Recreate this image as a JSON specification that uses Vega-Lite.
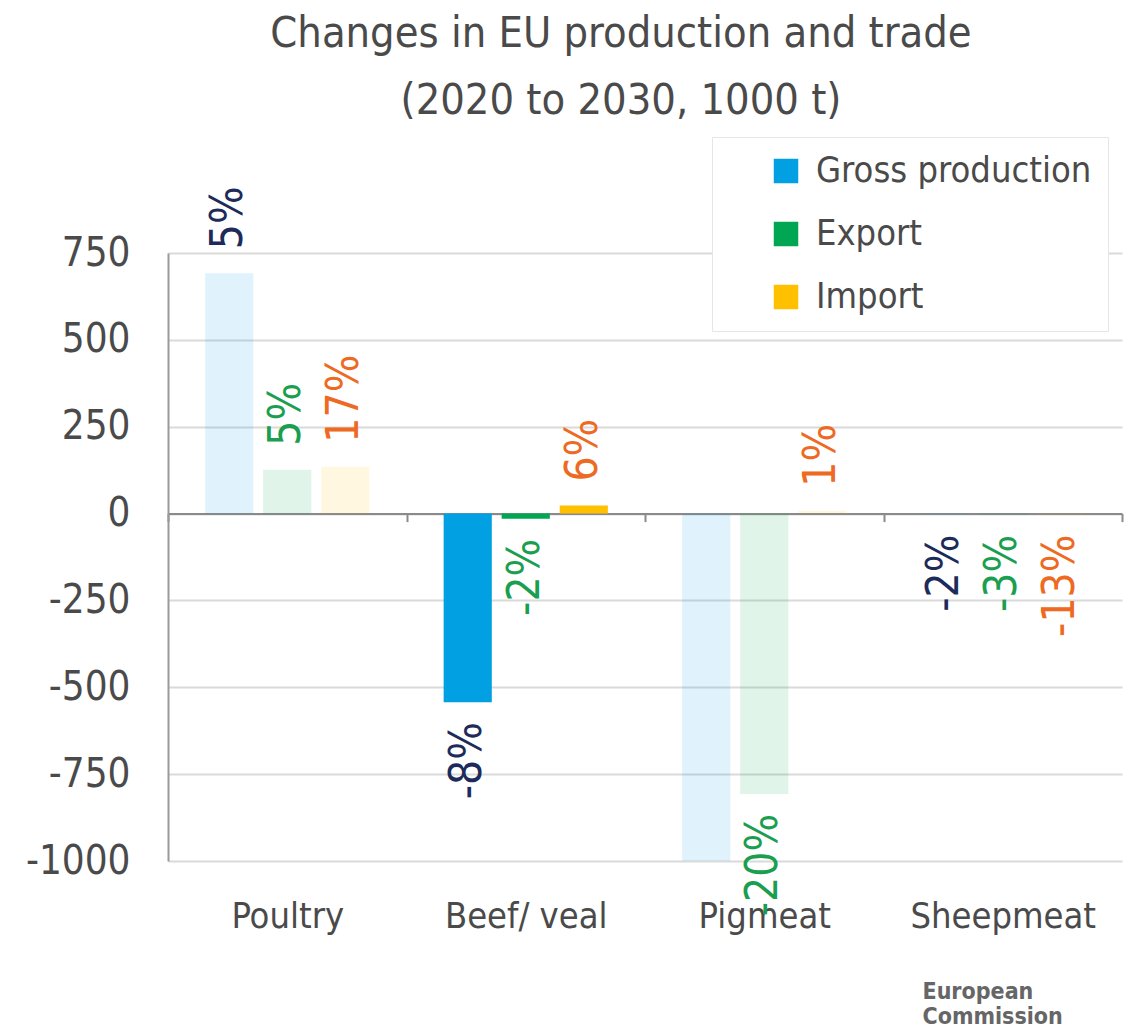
{
  "$schema": "https://vega.github.io/schema/vega-lite/v6.json",
  "autosize": {"type": "none"},
  "width": 954,
  "height": 608,
  "padding": {"left": 168, "top": 253, "right": 15, "bottom": 170},
  "background": "white",
  "config": {
    "font": "DejaVu Sans Condensed",
    "view": {"stroke": null}
  },
  "title": {
    "text": ["Changes in EU production and trade", "(2020 to 2030, 1000 t)"],
    "fontSize": 43,
    "fontWeight": "normal",
    "color": "#4a4a4a",
    "lineHeight": 67,
    "anchor": "middle",
    "dx": -24,
    "offset": 14
  },
  "data": {
    "values": [
      {"cat": "Poultry", "series": "Gross production", "value": 692, "pct": "5%"},
      {"cat": "Poultry", "series": "Export", "value": 126, "pct": "5%"},
      {"cat": "Poultry", "series": "Import", "value": 135, "pct": "17%"},
      {"cat": "Beef/ veal", "series": "Gross production", "value": -543, "pct": "-8%"},
      {"cat": "Beef/ veal", "series": "Export", "value": -15, "pct": "-2%"},
      {"cat": "Beef/ veal", "series": "Import", "value": 23, "pct": "6%"},
      {"cat": "Pigmeat", "series": "Gross production", "value": -1000, "pct": ""},
      {"cat": "Pigmeat", "series": "Export", "value": -807, "pct": "-20%"},
      {"cat": "Pigmeat", "series": "Import", "value": 8, "pct": "1%"},
      {"cat": "Sheepmeat", "series": "Gross production", "value": -3, "pct": "-2%"},
      {"cat": "Sheepmeat", "series": "Export", "value": -4, "pct": "-3%"},
      {"cat": "Sheepmeat", "series": "Import", "value": -3, "pct": "-13%"}
    ]
  },
  "encoding": {
    "x": {
      "field": "cat",
      "type": "nominal",
      "sort": ["Poultry", "Beef/ veal", "Pigmeat", "Sheepmeat"],
      "scale": {"paddingInner": 0, "paddingOuter": 0},
      "axis": {
        "title": ["European", "Commission"],
        "titleX": 754,
        "titleY": 467,
        "titleAlign": "left",
        "titleBaseline": "top",
        "titleAnchor": null,
        "titleFontSize": 23,
        "titleFontWeight": "bold",
        "titleColor": "#666666",
        "titleLineHeight": 25,
        "labelAngle": 0,
        "labelFontSize": 36,
        "labelColor": "#4a4a4a",
        "labelLimit": 400,
        "labelPadding": 378,
        "offset": -347.4,
        "domainColor": "#8a8a8a",
        "domainWidth": 2,
        "tickColor": "#8a8a8a",
        "tickWidth": 2,
        "tickSize": 8,
        "tickBand": "extent",
        "grid": false
      }
    },
    "xOffset": {
      "field": "series",
      "type": "nominal",
      "sort": ["Gross production", "Export", "Import"],
      "scale": {"paddingInner": 0.17, "paddingOuter": 0.64}
    },
    "y": {
      "field": "value",
      "type": "quantitative",
      "scale": {"domain": [-1000, 750], "nice": false, "zero": true},
      "axis": {
        "title": null,
        "values": [-1000, -750, -500, -250, 0, 250, 500, 750],
        "labelExpr": "'' + datum.value",
        "labelFontSize": 40,
        "labelColor": "#4a4a4a",
        "labelPadding": 38,
        "ticks": false,
        "domain": true,
        "domainColor": "#9a9a9a",
        "domainWidth": 2,
        "gridColor": "#dadada",
        "gridWidth": 2
      }
    }
  },
  "layer": [
    {
      "mark": {"type": "bar"},
      "encoding": {
        "color": {
          "field": "series",
          "type": "nominal",
          "sort": ["Gross production", "Export", "Import"],
          "scale": {"domain": ["Gross production", "Export", "Import"], "range": ["#00a0e3", "#00a651", "#ffc000"]},
          "legend": {
            "title": null,
            "orient": "none",
            "legendX": 544,
            "legendY": -116,
            "padding": 16,
            "symbolOffset": 40,
            "strokeColor": "#e6e6e6",
            "fillColor": "white",
            "symbolType": "square",
            "symbolSize": 600,
            "symbolStrokeWidth": 0,
            "symbolOpacity": 1,
            "labelFontSize": 36,
            "labelColor": "#4a4a4a",
            "labelLimit": 400,
            "rowPadding": 27,
            "labelOffset": 12
          }
        },
        "opacity": {
          "condition": {"test": "datum.cat === 'Beef/ veal'", "value": 1},
          "value": 0.12
        }
      }
    },
    {
      "transform": [{"filter": "datum.value >= 0"}],
      "mark": {"type": "text", "angle": 270, "align": "left", "baseline": "middle", "dx": 24, "fontSize": 44},
      "encoding": {
        "text": {"field": "pct"},
        "color": {
          "field": "series",
          "type": "nominal",
          "scale": {"domain": ["Gross production", "Export", "Import"], "range": ["#1c2b5a", "#1a9e4f", "#ee6a22"]},
          "legend": null
        }
      }
    },
    {
      "transform": [{"filter": "datum.value < 0"}],
      "mark": {"type": "text", "angle": 270, "align": "right", "baseline": "middle", "dx": -20, "fontSize": 44},
      "encoding": {
        "text": {"field": "pct"},
        "color": {
          "field": "series",
          "type": "nominal",
          "scale": {"domain": ["Gross production", "Export", "Import"], "range": ["#1c2b5a", "#1a9e4f", "#ee6a22"]},
          "legend": null
        }
      }
    }
  ],
  "resolve": {"scale": {"color": "independent"}}
}
